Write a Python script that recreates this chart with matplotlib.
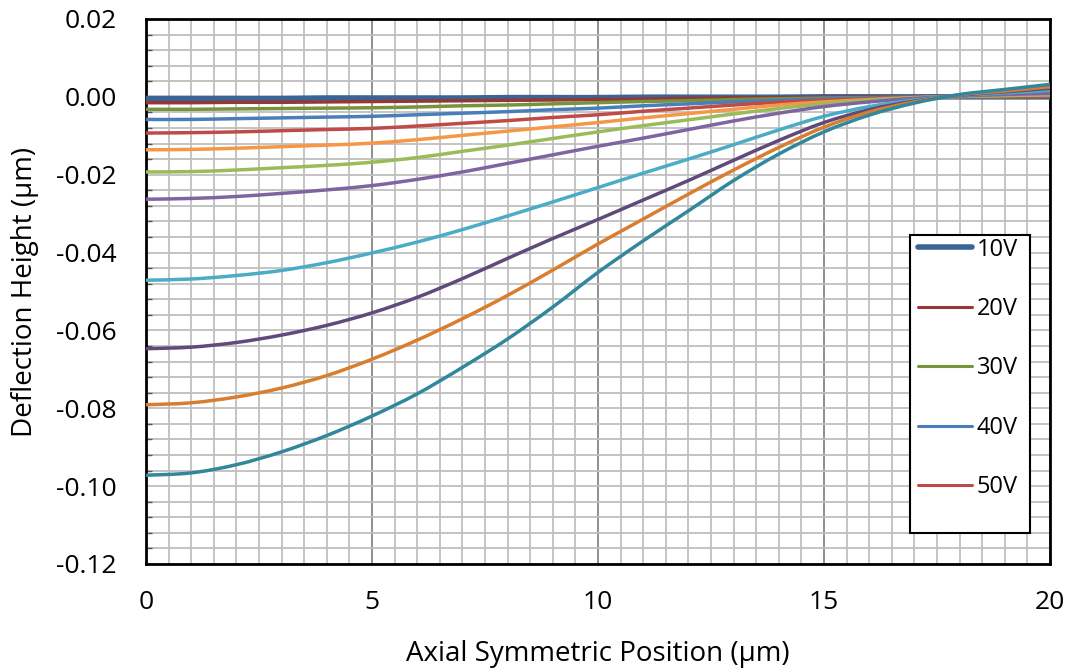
import matplotlib
matplotlib.use("Agg")
import matplotlib.pyplot as plt
from matplotlib.ticker import MultipleLocator
from matplotlib.path import Path
from matplotlib.patches import PathPatch, Rectangle
from matplotlib.lines import Line2D

plt.rcParams['font.family'] = ['Open Sans', 'DejaVu Sans']

# axial position (um)
x = [0, 1, 2, 3, 4, 5, 6, 7, 8, 9, 10, 11, 12, 13, 14, 15, 16, 17, 18, 19, 20]

# deflection height (um) for each voltage
v10 = [-0.0004, -0.0004, -0.0004, -0.0004, -0.0003, -0.0003, -0.0003, -0.0003, -0.0002, -0.0002, -0.0002,
       -0.0001, -0.0001, -0.0001, -0.0001, 0.0, 0.0, 0.0, 0.0, 0.0, 0.0]
v20 = [-0.0015, -0.0015, -0.0014, -0.0014, -0.0013, -0.0012, -0.0011, -0.0010, -0.0009, -0.0008, -0.0007,
       -0.0006, -0.0004, -0.0003, -0.0002, -0.0001, -0.0001, 0.0, 0.0, 0.0, 0.0001]
v30 = [-0.0032, -0.0032, -0.0031, -0.0030, -0.0029, -0.0028, -0.0026, -0.0023, -0.0021, -0.0018, -0.0015,
       -0.0012, -0.0010, -0.0007, -0.0005, -0.0003, -0.0002, -0.0001, 0.0, 0.0, 0.0001]
v40 = [-0.0058, -0.0058, -0.0056, -0.0054, -0.0052, -0.0050, -0.0046, -0.0042, -0.0038, -0.0033, -0.0029,
       -0.0023, -0.0018, -0.0013, -0.0009, -0.0005, -0.0003, -0.0001, 0.0, 0.0001, 0.0002]
v50 = [-0.0093, -0.0092, -0.0090, -0.0087, -0.0084, -0.0081, -0.0075, -0.0068, -0.0061, -0.0053, -0.0046,
       -0.0037, -0.0029, -0.0021, -0.0014, -0.0009, -0.0005, -0.0002, 0.0001, 0.0002, 0.0003]
v60 = [-0.0136, -0.0135, -0.0132, -0.0128, -0.0124, -0.0119, -0.0110, -0.0099, -0.0088, -0.0077, -0.0066,
       -0.0054, -0.0043, -0.0032, -0.0021, -0.0013, -0.0007, -0.0002, 0.0001, 0.0003, 0.0005]
v70 = [-0.0193, -0.0192, -0.0188, -0.0182, -0.0176, -0.0168, -0.0156, -0.0140, -0.0124, -0.0107, -0.0090,
       -0.0074, -0.0059, -0.0044, -0.0030, -0.0018, -0.0009, -0.0003, 0.0001, 0.0004, 0.0007]
v80 = [-0.0263, -0.0261, -0.0256, -0.0248, -0.0239, -0.0228, -0.0212, -0.0193, -0.0171, -0.0149, -0.0127,
       -0.0106, -0.0084, -0.0062, -0.0042, -0.0025, -0.0013, -0.0004, 0.0002, 0.0006, 0.0009]
v90 = [-0.0471, -0.0468, -0.0459, -0.0446, -0.0426, -0.0401, -0.0373, -0.0341, -0.0306, -0.0270, -0.0233,
       -0.0196, -0.0160, -0.0123, -0.0085, -0.0050, -0.0025, -0.0008, 0.0003, 0.0010, 0.0017]
v100 = [-0.0647, -0.0643, -0.0631, -0.0612, -0.0587, -0.0555, -0.0515, -0.0467, -0.0415, -0.0364, -0.0315,
        -0.0265, -0.0215, -0.0163, -0.0112, -0.0066, -0.0033, -0.0011, 0.0004, 0.0013, 0.0022]
v110 = [-0.0791, -0.0786, -0.0771, -0.0748, -0.0716, -0.0674, -0.0625, -0.0570, -0.0510, -0.0445, -0.0378,
        -0.0314, -0.0250, -0.0188, -0.0130, -0.0078, -0.0039, -0.0013, 0.0005, 0.0015, 0.0026]
v120 = [-0.0972, -0.0966, -0.0945, -0.0912, -0.0870, -0.0820, -0.0763, -0.0695, -0.0622, -0.0540, -0.0451,
        -0.0370, -0.0293, -0.0215, -0.0147, -0.0090, -0.0047, -0.0016, 0.0006, 0.0019, 0.0032]

labels = ['10V', '20V', '30V', '40V', '50V', '60V', '70V', '80V', '90V', '100V', '110V', '120V']
series = [v10, v20, v30, v40, v50, v60, v70, v80, v90, v100, v110, v120]
colors = ['#3A6396', '#953735', '#77933C', '#4A7EBB', '#BE4B48', '#F79646',
          '#9BBB59', '#8064A2', '#4BACC6', '#604A7B', '#D97D2F', '#31879C']


def smooth_path(xs, ys):
    # excel style smoothed line: bezier segments through the points
    n = len(xs)
    verts = [(xs[0], ys[0])]
    codes = [Path.MOVETO]
    for i in range(n - 1):
        i0 = max(i - 1, 0)
        i3 = min(i + 2, n - 1)
        c1 = (xs[i] + (xs[i + 1] - xs[i0]) / 6, ys[i] + (ys[i + 1] - ys[i0]) / 6)
        c2 = (xs[i + 1] - (xs[i3] - xs[i]) / 6, ys[i + 1] - (ys[i3] - ys[i]) / 6)
        verts += [c1, c2, (xs[i + 1], ys[i + 1])]
        codes += [Path.CURVE4] * 3
    return Path(verts, codes)


fig = plt.figure(figsize=(10.7, 6.71), dpi=100)
ax = fig.add_axes([0.1364, 0.1595, 0.8449, 0.8122])

handles = []
for i in range(len(series)):
    lw = 4.0 if i == 0 else 2.5
    ax.add_patch(PathPatch(smooth_path(x, series[i]), fill=False, edgecolor=colors[i],
                           lw=lw, capstyle='round', zorder=3 + i * 0.01))
    handles.append(Line2D([], [], color=colors[i], lw=lw if i == 0 else 2.2,
                          solid_capstyle='round', label=labels[i]))

ax.set_xlim(0, 20)
ax.set_ylim(-0.12, 0.02)
ax.xaxis.set_major_locator(MultipleLocator(5))
ax.xaxis.set_minor_locator(MultipleLocator(0.5))
ax.yaxis.set_major_locator(MultipleLocator(0.02))
ax.yaxis.set_minor_locator(MultipleLocator(0.004))
ax.yaxis.set_major_formatter(lambda v, p: '%.2f' % v)

ax.grid(which='minor', color='#BFBFBF', lw=1.3, zorder=0)
ax.grid(which='major', axis='y', color='#BFBFBF', lw=1.3, zorder=0)
ax.grid(which='major', axis='x', color='#868686', lw=1.3, zorder=0)
ax.set_axisbelow(True)

ax.tick_params(axis='x', which='both', length=0, pad=19, labelsize=19)
ax.tick_params(axis='y', which='major', length=0, pad=21, labelsize=19)
ax.tick_params(axis='y', which='minor', direction='in', length=4, width=1, color='#555555')
for s in ax.spines.values():
    s.set_color('black')
    s.set_linewidth(2)

ax.set_xlabel('Axial Symmetric Position (µm)', fontsize=20, labelpad=18)
ax.set_ylabel('Deflection Height (µm)', fontsize=20, labelpad=12)

# legend box is taller than its entries, like the excel one
ax.add_patch(Rectangle((0.845, 0.057), 0.133, 0.547, transform=ax.transAxes,
                       facecolor='white', edgecolor='black', lw=1.5, zorder=10))
leg = ax.legend(handles=handles[:5], loc='upper left', bbox_to_anchor=(0.8525, 0.601),
                fontsize=17, frameon=False, labelspacing=1.5, handlelength=2.3,
                handletextpad=0.2, borderpad=0.05, borderaxespad=0)
leg.set_zorder(11)

fig.savefig('out.png', dpi=100)
